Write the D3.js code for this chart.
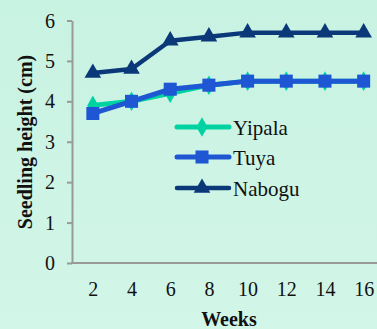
<!DOCTYPE html>
<html><head><meta charset="utf-8">
<script src="https://cdn.jsdelivr.net/npm/d3@7"></script>
<style>html,body{margin:0;padding:0;overflow:hidden;background:#cdf4e4}</style>
</head><body>
<svg id="c" width="377" height="329"></svg>
<script>
const weeks = [2, 4, 6, 8, 10, 12, 14, 16];
const yipala = [3.9, 4.0, 4.2, 4.4, 4.5, 4.5, 4.5, 4.5];
const tuya = [3.7, 4.0, 4.3, 4.4, 4.5, 4.5, 4.5, 4.5];
const nabogu = [4.7, 4.8, 5.5, 5.6, 5.7, 5.7, 5.7, 5.7];
const yTicks = [0, 1, 2, 3, 4, 5, 6];
const seriesNames = ["Yipala", "Tuya", "Nabogu"];

const svg = d3.select("#c");
const defs = svg.append("defs");
const g0 = defs.append("linearGradient").attr("id","bg").attr("x1",0).attr("y1",0).attr("x2",0).attr("y2",1);
g0.append("stop").attr("offset","0%").attr("stop-color","#c8f2e2");
g0.append("stop").attr("offset","100%").attr("stop-color","#d2f6e8");
svg.append("rect").attr("width",377).attr("height",329).attr("fill","url(#bg)");

const x = d3.scalePoint().domain(weeks).range([73.5, 383]).padding(0.5);
const y = d3.scaleLinear().domain([0, 6]).range([263, 20.5]);
const font = '"Liberation Serif", serif';

// y axis
const ya = svg.append("g").attr("transform","translate(72,0)")
  .call(d3.axisLeft(y).tickValues(yTicks).tickFormat(d3.format("d")).tickSize(5).tickPadding(12).tickSizeOuter(0));
ya.attr("font-family",font).attr("font-size",20);
ya.select(".domain").attr("stroke","#999").attr("stroke-width",2);
ya.selectAll(".tick line").attr("stroke","#999").attr("stroke-width",2);
ya.selectAll("text").attr("fill","#111").attr("dy","0.33em");

// x axis
const xa = svg.append("g").attr("transform","translate(0,263)")
  .call(d3.axisBottom(x).tickSize(0).tickPadding(20));
xa.attr("font-family",font).attr("font-size",20);
xa.select(".domain").attr("stroke","#999").attr("stroke-width",2).attr("d","M71,0H377");
xa.selectAll("text").attr("fill","#111").attr("dy","0.66em");

svg.append("text").attr("x",229).attr("y",326).attr("text-anchor","middle")
  .attr("font-family",font).attr("font-weight","bold").attr("font-size",20).attr("fill","#111").text("Weeks");
svg.append("text").attr("transform","translate(32,142) rotate(-90)").attr("text-anchor","middle")
  .attr("font-family",font).attr("font-weight","bold").attr("font-size",20).attr("fill","#111").text("Seedling height (cm)");

const colors = {Yipala:"#00d3a2", Tuya:"#1e56d4", Nabogu:"#0a3878"};
const data = {Yipala:yipala, Tuya:tuya, Nabogu:nabogu};
const shapes = {Yipala:d3.symbolDiamond, Tuya:d3.symbolSquare, Nabogu:d3.symbolTriangle};
const sizes = {Yipala:110, Tuya:170, Nabogu:120};
const widths = {Yipala:5, Tuya:5, Nabogu:4.5};

const line = d3.line().x((d,i)=>x(weeks[i])).y(d=>y(d));
seriesNames.forEach(name=>{
  const g = svg.append("g");
  g.append("path").datum(data[name]).attr("d",line).attr("fill","none")
    .attr("stroke",colors[name]).attr("stroke-width",widths[name]).attr("stroke-linejoin","round");
  g.selectAll("path.m").data(data[name]).enter().append("path").attr("class","m")
    .attr("transform",(d,i)=>`translate(${x(weeks[i])},${y(d)})`)
    .attr("d",d3.symbol().type(shapes[name]).size(sizes[name])).attr("fill",colors[name]);
});

// legend
const legY = [127, 157, 188];
seriesNames.forEach((name,i)=>{
  const lg = svg.append("g").attr("transform",`translate(0,${legY[i]})`);
  lg.append("line").attr("x1",177).attr("x2",229).attr("stroke",colors[name]).attr("stroke-width",widths[name]).attr("stroke-linecap","round");
  lg.append("path").attr("transform","translate(202,0)").attr("d",d3.symbol().type(shapes[name]).size(sizes[name])).attr("fill",colors[name]);
  lg.append("text").attr("x",233).attr("y",7.5).attr("font-family",font).attr("font-size",21).attr("fill","#111").text(name);
});
</script>
</body></html>
